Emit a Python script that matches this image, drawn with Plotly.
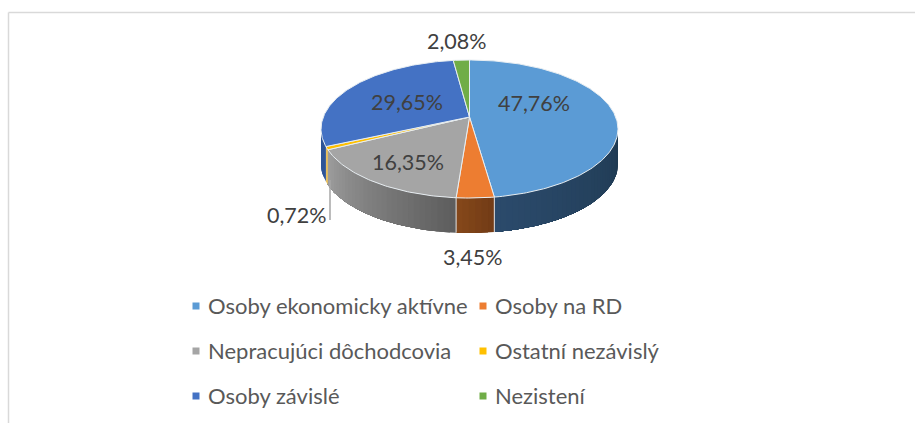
import numpy as np
import plotly.graph_objects as go

categories = ["Osoby ekonomicky aktívne", "Osoby na RD", "Nepracujúci dôchodcovia",
              "Ostatní nezávislý", "Osoby závislé", "Nezistení"]
values = [47.76, 3.45, 16.35, 0.72, 29.65, 2.08]
colors = ["#5B9BD5", "#ED7D31", "#A5A5A5", "#FFC000", "#4472C4", "#70AD47"]
wall_left = ["#2B4A6B", "#84471A", "#9C9C9C", "#E8C060", "#2F5597", "#4E7A30"]
wall_right = ["#1F3A52", "#733C16", "#5E5E5E", "#E8C060", "#2F5597", "#4E7A30"]

CX, CY, R, K, A, DEPTH = 469.5, 117.0, 146.2, 0.174, -46.57, 35.0


def rim(deg):
    """Perspective projection of the pie's rim; deg runs clockwise from the top."""
    t = np.radians(deg)
    u, v = np.sin(t), np.cos(t)
    d = 1 + K * v
    return CX + R * u / d, (A * v + CY) / d


def mix(c1, c2, f):
    a = [int(c1[i:i + 2], 16) for i in (1, 3, 5)]
    b = [int(c2[i:i + 2], 16) for i in (1, 3, 5)]
    return "rgb(%d,%d,%d)" % tuple(round(p + (q - p) * f) for p, q in zip(a, b))


fig = go.Figure()
edges = np.concatenate([[0], np.cumsum(values) / sum(values) * 360])
FRONT_A, FRONT_B = 100.0, 260.0

# side walls: each shaded band runs to the slice's far end, later bands paint over it
for i in range(len(values)):
    a, b = max(edges[i], FRONT_A), min(edges[i + 1], FRONT_B)
    if b <= a:
        continue
    n = max(1, int((b - a) / 2.0))
    steps = np.linspace(a, b, n + 1)
    for j in range(n):
        th = np.linspace(steps[j], b, max(2, n - j + 1))
        x, y = rim(th)
        f = j / max(1, n - 1)
        col = mix(wall_left[i], wall_right[i], 1 - f)
        fig.add_trace(go.Scatter(x=np.r_[x, x[::-1]], y=np.r_[y, y[::-1] + DEPTH], mode="lines",
                                 fill="toself", fillcolor=col, line=dict(width=0),
                                 hoverinfo="skip", showlegend=False))

# seams between the front walls
for e in edges[1:3]:
    x, y = rim(np.array([e]))
    fig.add_trace(go.Scatter(x=[x[0], x[0]], y=[y[0], y[0] + DEPTH], mode="lines",
                             line=dict(color="#E4E4E4", width=1), hoverinfo="skip",
                             showlegend=False))

# top faces
for i, name in enumerate(categories):
    th = np.linspace(edges[i], edges[i + 1], max(3, int(values[i] * 4)))
    x, y = rim(th)
    fig.add_trace(go.Scatter(x=np.r_[CX, x, CX], y=np.r_[CY, y, CY], mode="lines", fill="toself",
                             fillcolor=colors[i], line=dict(color="#E8EEF2", width=1),
                             name=name, hovertemplate=name + ": %{text}<extra></extra>",
                             text=["%.2f%%" % values[i]] * (len(th) + 2), showlegend=False))

# leader line for the small slice
fig.add_trace(go.Scatter(x=[330, 330], y=[180, 220], mode="lines",
                         line=dict(color="#A6A6A6", width=1.5), hoverinfo="skip", showlegend=False))

label_pos = [(534, 103), (473, 257), (408, 162), (297, 215), (407, 102), (457, 41)]
ann = []
for v, (lx, ly) in zip(values, label_pos):
    ann.append(dict(x=lx, y=ly, xref="x", yref="y", showarrow=False,
                    text=("%.2f%%" % v).replace(".", ","),
                    font=dict(family="Lato", size=21.5, color="#404040")))

legend_pos = [(196, 306), (483, 306), (196, 351), (483, 351), (196, 396), (483, 396)]
shapes = [
    dict(type="line", xref="x", yref="y", x0=8.5, x1=915, y0=12.5, y1=12.5, line=dict(color="#D9D9D9", width=1.5)),
    dict(type="line", xref="x", yref="y", x0=8.5, x1=8.5, y0=12.5, y1=423, line=dict(color="#D9D9D9", width=1.5)),
]
for c, name, (lx, ly) in zip(colors, categories, legend_pos):
    shapes.append(dict(type="rect", xref="x", yref="y", x0=lx - 3.5, x1=lx + 3.5, y0=ly - 3.5, y1=ly + 3.5,
                       fillcolor=c, line=dict(width=0)))
    ann.append(dict(x=lx + 10, y=ly - 1, xref="x", yref="y", xanchor="left", showarrow=False, text=name,
                    font=dict(family="Lato", size=22, color="#595959")))

fig.update_layout(width=915, height=423, margin=dict(l=0, r=0, t=0, b=0), paper_bgcolor="white",
                  plot_bgcolor="white", showlegend=False, annotations=ann, shapes=shapes,
                  xaxis=dict(range=[0, 915], visible=False, fixedrange=True),
                  yaxis=dict(range=[423, 0], visible=False, fixedrange=True))
fig.write_html("out.html", config=dict(displayModeBar=False),
               post_script="document.body.style.margin='0';document.body.style.overflow='hidden';")
